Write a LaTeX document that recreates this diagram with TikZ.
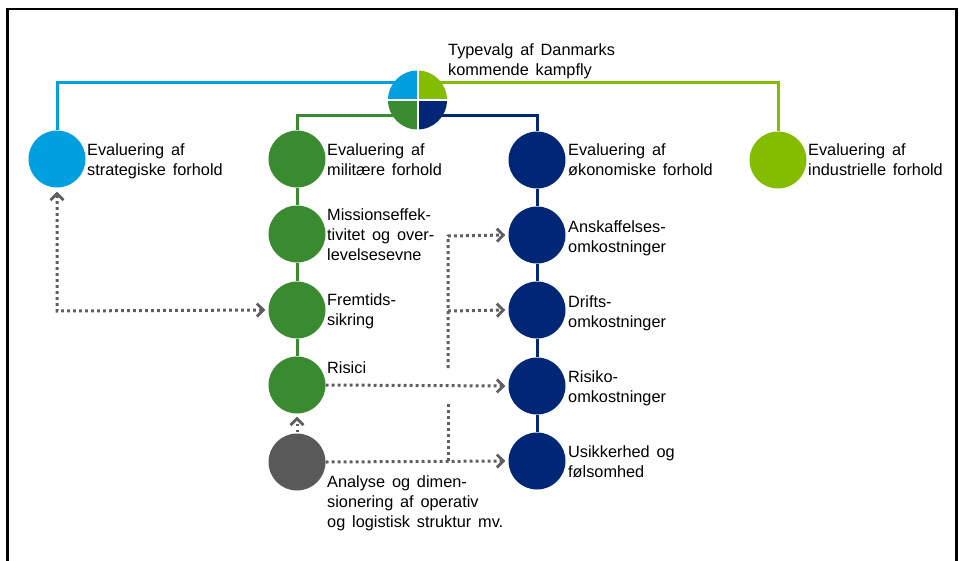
\documentclass[tikz,border=0pt]{standalone}
\usepackage{fontspec}
\setmainfont{Liberation Sans}
\usetikzlibrary{arrows.meta,calc}
\definecolor{cblue}{HTML}{00A0E0}
\definecolor{clgreen}{HTML}{84BD00}
\definecolor{cdgreen}{HTML}{3A8A30}
\definecolor{cnavy}{HTML}{002776}
\definecolor{cgrey}{HTML}{595959}
\definecolor{cdot}{HTML}{5F5F5F}
\newcommand\lblfont{\fontsize{16.3}{20}\selectfont\spaceskip 0.42em plus 0.1em\relax}
\pgfdeclarelayer{bg}
\pgfsetlayers{bg,main}
\tikzset{
  ball/.style={circle, minimum size=57pt, inner sep=0pt, draw=none},
  lbl/.style={anchor=base west, inner sep=0pt, align=left, text=black, font=\lblfont},
  conn/.style={line width=3pt},
  barb/.tip={Straight Barb[length=6.5pt,width=13pt,line width=2.8pt]},
  dotarrow/.style={draw=cdot, line width=3pt, dash pattern=on 2.8pt off 3.2pt, -barb},
  dotline/.style={draw=cdot, line width=3pt, dash pattern=on 2.8pt off 3.2pt}
}
\begin{document}
\begin{tikzpicture}[x=1pt,y=-1pt]
\useasboundingbox (0,0) rectangle (959,560);
\draw[line width=2.5pt] (7.5,600) -- (7.5,9) -- (956.5,9) -- (956.5,600);

% pie (y axis points down: 270 = up)
\coordinate (pc) at (417.5,100);
\node[circle, minimum size=59pt, inner sep=0pt] (pie) at (pc) {};
\fill[cblue]   (pc) -- +(180:29.5) arc[start angle=180,end angle=270,radius=29.5] -- cycle;
\fill[clgreen] (pc) -- +(270:29.5) arc[start angle=270,end angle=360,radius=29.5] -- cycle;
\fill[cnavy]   (pc) -- +(0:29.5) arc[start angle=0,end angle=90,radius=29.5] -- cycle;
\fill[cdgreen] (pc) -- +(90:29.5) arc[start angle=90,end angle=180,radius=29.5] -- cycle;
\draw[white, line width=2pt] ($(pc)+(-30,0)$) -- ($(pc)+(30,0)$);
\draw[white, line width=2pt] ($(pc)+(0,-30)$) -- ($(pc)+(0,30)$);

% circles
\node[ball, fill=cblue]   (s1) at (57,159) {};
\node[ball, fill=cdgreen] (m1) at (297,159) {};
\node[ball, fill=cdgreen] (m2) at (297,234) {};
\node[ball, fill=cdgreen] (m3) at (297,310) {};
\node[ball, fill=cdgreen] (m4) at (297,385) {};
\node[ball, fill=cgrey]   (g1) at (297,462) {};
\node[ball, fill=cnavy]   (o1) at (537,160) {};
\node[ball, fill=cnavy]   (o2) at (537,235) {};
\node[ball, fill=cnavy]   (o3) at (537,310) {};
\node[ball, fill=cnavy]   (o4) at (537,386) {};
\node[ball, fill=cnavy]   (o5) at (537,461) {};
\node[ball, fill=clgreen] (i1) at (778,160) {};

% solid connectors
\begin{pgfonlayer}{bg}
\draw[conn, cblue]   (s1) |- (pc |- 0,82);
\draw[conn, clgreen] (i1) |- (pc |- 0,82);
\draw[conn, cdgreen] (m1) |- (pc |- 0,115);
\draw[conn, cnavy]   (o1) |- (pc |- 0,115);
\draw[conn, cdgreen] (m1) -- (m2) -- (m3) -- (m4);
\draw[conn, cnavy]   (o1) -- (o2) -- (o3) -- (o4) -- (o5);
\end{pgfonlayer}

% dotted connectors
\coordinate (j1) at (448,236);
\coordinate (j2) at (448,311);
\coordinate (j3) at (448,368);
\coordinate (j4) at (448,402);
\coordinate (j5) at (448,461);
\coordinate (k1) at (57,311);
\draw[dotarrow, barb-barb] ($(s1.south)+(0,4)$) -- (k1) -- ($(m3.west)+(-3,0)$);
\draw[dotarrow] ($(g1.north)+(0,-1)$) -- ($(m4.south)+(0,3)$);
\draw[dotarrow] (m4.east) -- ($(o4.west)+(-3,0)$);
\draw[dotarrow] (g1.east) -- ($(o5.west)+(-3,0)$);
\draw[dotline] (j5) -- (j4);
\draw[dotarrow] (j3) -- (j1) -- ($(o2.west)+(-3,0)$);
\draw[dotarrow] (j2) -- ($(o3.west)+(-3,0)$);

% labels (base = baseline of the last line)
\node[lbl] (tt) at (448,75) {Typevalg af Danmarks\\kommende kampfly};
\node[lbl] (ts1) at (87,175) {Evaluering af\\strategiske forhold};
\node[lbl] (tm1) at (327,175) {Evaluering af\\militære forhold};
\node[lbl] (tm2) at (327,260) {Missionseffek-\\tivitet og over-\\levelsesevne};
\node[lbl] (tm3) at (327,325) {Fremtids-\\sikring};
\node[lbl] (tm4) at (327,373) {Risici};
\node[lbl] (tg1) at (327,527) {Analyse og dimen-\\sionering af operativ\\og logistisk struktur mv.};
\node[lbl] (to1) at (568,175) {Evaluering af\\økonomiske forhold};
\node[lbl] (to2) at (568,252) {Anskaffelses-\\omkostninger};
\node[lbl] (to3) at (568,327) {Drifts-\\omkostninger};
\node[lbl] (to4) at (568,402) {Risiko-\\omkostninger};
\node[lbl] (to5) at (568,477) {Usikkerhed og\\følsomhed};
\node[lbl] (ti1) at (808,175) {Evaluering af\\industrielle forhold};
\end{tikzpicture}
\end{document}
